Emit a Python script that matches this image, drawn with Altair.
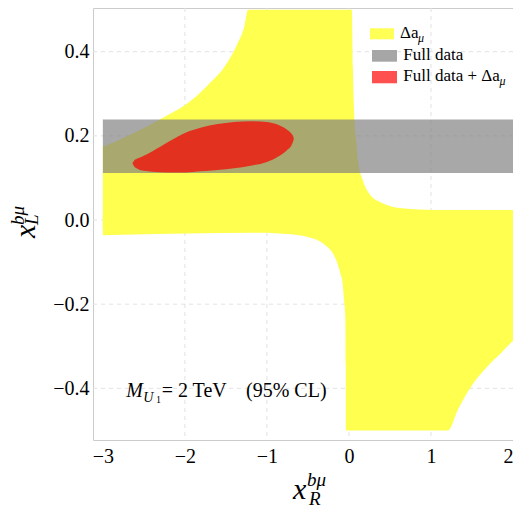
import altair as alt
import pandas as pd

# ---- data ----
# upper boundary of the yellow (Delta a_mu) region
hi_x = [-3.0, -2.717, -2.317, -1.917, -1.717, -1.517, -1.357, -1.277, -1.23,
        0.036, 0.048, 0.067, 0.088, 0.108, 0.168, 0.247, 0.408, 0.648, 1.048, 2.0]
hi_y = [0.174, 0.198, 0.2375, 0.285, 0.321, 0.364, 0.42, 0.459, 0.5,
        0.5, 0.364, 0.238, 0.19, 0.1425, 0.095, 0.063, 0.040, 0.028, 0.024, 0.024]
# lower boundary of the yellow region
lo_x = [-3.0, -2.0, -1.1, -0.7, -0.516, -0.3, -0.2, -0.156, -0.1, -0.077, -0.06,
        -0.044, -0.038, -0.036, 1.208, 1.328, 1.488, 1.688, 1.849, 2.0]
lo_y = [-0.036, -0.032, -0.030, -0.034, -0.040, -0.058, -0.078, -0.095, -0.13, -0.15, -0.19,
        -0.23, -0.35, -0.5, -0.5, -0.451, -0.396, -0.348, -0.317, -0.287]
# gray "Full data" band
band_x = [-3.0, 2.0]
band_y = [0.112, 0.239]
# red "Full data + Delta a_mu" region
ell_x = [-2.64, -2.62, -2.58, -2.5, -2.4, -2.2, -2.0, -1.8, -1.6, -1.4, -1.2, -1.0,
         -0.85, -0.75, -0.70, -0.68, -0.672]
ell_up = [0.135, 0.141, 0.146, 0.153, 0.163, 0.186, 0.207, 0.220, 0.228, 0.233, 0.235, 0.233,
          0.225, 0.214, 0.205, 0.199, 0.194]
ell_lo = [0.135, 0.128, 0.122, 0.117, 0.115, 0.113, 0.113, 0.116, 0.119, 0.123, 0.129, 0.138,
          0.152, 0.167, 0.178, 0.187, 0.194]

x_ticks = [-3, -2, -1, 0, 1, 2]
y_ticks = [-0.4, -0.2, 0.0, 0.2, 0.4]
x_grid = [-2, -1, 0, 1]
y_grid = [-0.4, -0.2, 0.0, 0.2, 0.4]
legend_labels = ["Δa", "Full data", "Full data + Δa"]

YELLOW = "#ffff4f"
RED = "#e2321f"
FONT = "Liberation Serif"

xs = alt.Scale(domain=[-3.12, 2.0], nice=False, zero=False)
ys = alt.Scale(domain=[-0.5228, 0.5039], nice=False, zero=False)
xax = alt.Axis(values=x_ticks, format="d", title=None, labelFont=FONT, labelFontSize=20,
               labelColor="black", grid=False, domain=False, ticks=False, labelPadding=6)
yax = alt.Axis(values=y_ticks, format=".1f", title=None, labelFont=FONT, labelFontSize=20,
               labelColor="black", grid=False, domain=False, ticks=False, labelPadding=4)

df_hi = pd.DataFrame({"x": hi_x, "y": hi_y, "b": [-0.02] * len(hi_x)})
df_lo = pd.DataFrame({"x": lo_x, "y": lo_y, "b": [0.015] * len(lo_x)})
df_band = pd.DataFrame({"x": [band_x[0]], "x2": [band_x[1]], "y": [band_y[0]], "y2": [band_y[1]]})
df_ell = pd.DataFrame({"x": ell_x, "y": ell_up, "y2": ell_lo})


def X():
    return alt.X("x:Q", scale=xs, axis=xax)


def Y():
    return alt.Y("y:Q", scale=ys, axis=yax)


GRID = dict(color="#e2e2e2", strokeDash=[4, 4], strokeWidth=1)
vgrid = alt.Chart(pd.DataFrame({"x": x_grid})).mark_rule(**GRID).encode(x=X())
hgrid = alt.Chart(pd.DataFrame({"y": y_grid})).mark_rule(**GRID).encode(y=Y())

upper = alt.Chart(df_hi).mark_area(color=YELLOW, interpolate="monotone", orient="vertical").encode(
    x=X(), y=Y(), y2="b:Q")
lower = alt.Chart(df_lo).mark_area(color=YELLOW, interpolate="monotone", orient="vertical").encode(
    x=X(), y=Y(), y2="b:Q")
band = alt.Chart(df_band).mark_rect(color="#7f7f7f", opacity=0.68).encode(
    x=X(), x2="x2:Q", y=Y(), y2="y2:Q")
ell = alt.Chart(df_ell).mark_area(color=RED, interpolate="monotone", orient="vertical").encode(
    x=X(), y=Y(), y2="y2:Q")


def txt(s, x, y, size, italic=False, angle=0):
    return alt.Chart(pd.DataFrame({"t": [s]})).mark_text(
        font=FONT, fontSize=size, fontStyle="italic" if italic else "normal",
        angle=angle, align="left", baseline="alphabetic", color="black",
    ).encode(x=alt.value(x), y=alt.value(y), text="t:N")


def swatch(color, x1, x2, y1, y2):
    return alt.Chart(pd.DataFrame({"c": [color]})).mark_rect(color=color).encode(
        x=alt.value(x1), x2=alt.value(x2), y=alt.value(y1), y2=alt.value(y2)
    )


layers = [vgrid, hgrid, upper, lower, band, ell,
          swatch("#ffff55", 277, 301, 20.3, 31.3),
          swatch("#a6a6a6", 279, 304, 42, 53.7),
          swatch("#ff5050", 279, 304, 63, 75.3),
          txt(legend_labels[0], 307, 30.3, 17), txt("μ", 325, 34, 12, True),
          txt(legend_labels[1], 310.3, 52, 17),
          txt(legend_labels[2], 310.3, 73, 17), txt("μ", 406.5, 77, 12, True),
          txt("M", 33.3, 388.7, 20, True), txt("U", 50.3, 393.7, 14, True),
          txt("1", 63, 395, 10), txt("= 2 TeV", 68.7, 388.7, 20), txt("(95% CL)", 153, 388.7, 20),
          # x axis title
          txt("x", 200, 491, 30, True), txt("bμ", 214, 478, 19, True), txt("R", 216, 497, 19, True),
          # y axis title (rotated)
          txt("x", -58, 230, 30, True, 270), txt("bμ", -69, 217, 19, True, 270),
          txt("L", -55, 217, 19, True, 270),
          ]

chart = alt.layer(*layers).properties(
    width=420, height=432,
    autosize=alt.AutoSizeParams(type="none"),
    padding={"left": 85, "top": 0, "right": 0, "bottom": 68},
).configure_view(stroke="#cccccc", strokeWidth=1)

chart.save("out.html", embed_options={"renderer": "svg", "actions": False})
